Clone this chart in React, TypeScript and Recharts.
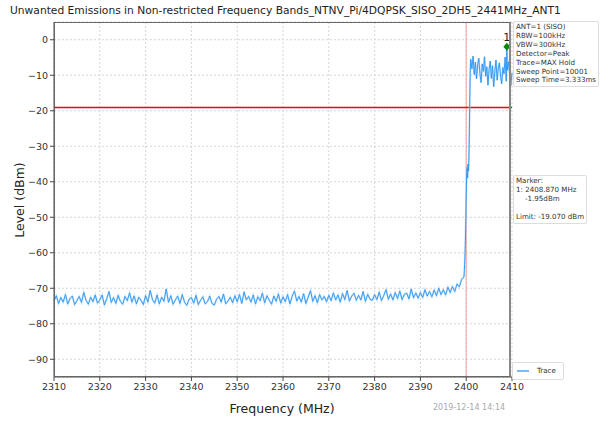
import { LineChart, Line, XAxis, YAxis, CartesianGrid, ReferenceLine, ReferenceDot } from 'recharts';

const title = 'Unwanted Emissions in Non-restricted Frequency Bands_NTNV_Pi/4DQPSK_SISO_2DH5_2441MHz_ANT1';
const xTicks = [2310, 2320, 2330, 2340, 2350, 2360, 2370, 2380, 2390, 2400, 2410];
const yTicks = [-90, -80, -70, -60, -50, -40, -30, -20, -10, 0];

// noise floor, 2310 .. 2399.5 MHz every 0.5 MHz
const floorStart = 2310;
const floorStep = 0.5;
const floorLevels = [
  -73.6, -72.1, -74.3, -72.6, -73.9, -71.8, -74.4, -72.9, -72.2, -74.6, -73.5, -72.3, -74.0, -71.2, -73.4, -74.5, -72.5, -73.8, -71.9, -74.2,
  -73.3, -71.9, -74.7, -73.0, -70.9, -74.0, -72.6, -74.3, -72.0, -73.7, -74.5, -72.3, -73.5, -71.3, -73.9, -72.2, -74.4, -72.5, -73.4, -74.6,
  -72.1, -73.9, -70.6, -73.2, -74.2, -71.9, -74.4, -72.5, -73.7, -70.2, -74.0, -72.1, -74.5, -73.3, -72.2, -74.3, -71.8, -73.9, -74.8, -73.1,
  -72.6, -74.2, -72.0, -74.6, -73.4, -72.4, -74.4, -73.8, -72.2, -74.3, -74.7, -73.1, -72.3, -73.9, -71.6, -74.4, -73.6, -72.5, -74.1, -72.1,
  -73.8, -71.8, -74.3, -71.0, -73.3, -72.3, -73.9, -71.9, -74.4, -72.4, -73.5, -71.4, -74.1, -72.1, -73.4, -74.5, -72.2, -73.7, -71.6, -74.2,
  -72.4, -73.8, -71.8, -74.4, -72.2, -70.8, -73.6, -72.3, -73.9, -71.5, -74.3, -72.5, -70.7, -73.7, -72.1, -74.1, -71.8, -73.3, -72.3, -73.8,
  -72.0, -73.5, -71.3, -73.3, -71.9, -73.9, -71.5, -73.2, -70.6, -73.6, -72.2, -71.4, -73.4, -72.0, -73.3, -70.9, -73.7, -71.7, -73.1, -73.4,
  -71.8, -73.2, -71.1, -73.5, -72.0, -70.4, -73.1, -71.6, -73.3, -71.2, -72.9, -70.8, -73.2, -71.7, -71.4, -73.0, -70.2, -72.7, -71.3, -72.8,
  -71.2, -72.6, -70.4, -72.2, -70.9, -72.4, -70.5, -72.1, -70.0, -71.8, -70.4, -71.9, -69.7, -71.2, -69.5, -70.9, -68.8, -69.6, -67.5, -66.8,
];

// band edge
const edgeFreqs = [2399.6, 2399.7, 2399.8, 2399.9, 2400.0, 2400.1, 2400.2, 2400.3, 2400.4, 2400.5, 2400.6, 2400.7, 2400.8, 2400.9];
const edgeLevels = [-65, -62, -58, -52, -44, -38, -36, -39, -35, -37, -33, -25, -15, -8];

// in-band, 2401 .. 2410 MHz every 0.25 MHz
const bandStart = 2401;
const bandStep = 0.25;
const bandLevels = [
  -5.5, -8.2, -4.6, -9.8, -6.3, -11.0, -7.1, -5.2, -9.4, -12.1, -6.8, -8.9, -4.8, -10.3, -7.6, -12.8, -8.4, -6.0, -10.9,
  -7.3, -13.2, -9.1, -5.7, -11.4, -8.0, -6.5, -10.2, -12.4, -7.8, -9.6, -4.9, -11.7, -8.6, -6.2, -10.0, -12.9, -9.3,
];

const markerFreq = 2408.87;
const markerLevel = -1.95;
const limit = -19.07;

const data = [
  ...floorLevels.map((v, i) => ({ f: floorStart + i * floorStep, v })),
  ...edgeFreqs.map((f, i) => ({ f, v: edgeLevels[i] })),
  ...bandLevels.map((v, i) => ({ f: bandStart + i * bandStep, v })),
  { f: markerFreq, v: markerLevel },
].sort((a, b) => a.f - b.f);

const font = 'DejaVu Sans, sans-serif';
const tick = { fill: '#333', fontSize: 9.5, fontFamily: font };

const infoLines = ['ANT=1 (SISO)', 'RBW=100kHz', 'VBW=300kHz', 'Detector=Peak', 'Trace=MAX Hold', 'Sweep Point=10001', 'Sweep Time=3.333ms'];
const markerLines = ['Marker:', `1: ${markerFreq.toFixed(3)} MHz`, `    ${markerLevel.toFixed(2)}dBm`, '\u00a0', `Limit: ${limit.toFixed(3)} dBm`];

const Diamond = (props: any) => {
  const { cx, cy } = props;
  return (
    <g>
      <path d={`M${cx},${cy - 4} L${cx + 3.5},${cy} L${cx},${cy + 4} L${cx - 3.5},${cy} Z`} fill="#0a8a0a" />
      <text x={cx} y={cy - 6} textAnchor="middle" fontSize={11} fontFamily={font} fill="#222">1</text>
    </g>
  );
};

const box: React.CSSProperties = {
  position: 'absolute',
  background: '#fff',
  border: '1px solid #ddd',
  borderRadius: 2,
  fontFamily: font,
  fontSize: 7.1,
  lineHeight: '8.9px',
  color: '#333',
  padding: '1px 2px',
  whiteSpace: 'pre',
};

export default function App() {
  return (
    <div style={{ position: 'absolute', left: 0, top: 0, width: 601, height: 421, background: '#fff' }}>
      <LineChart width={601} height={421} data={data} margin={{ top: 22, right: 89, bottom: 24, left: 14 }}>
        <CartesianGrid stroke="#d5d5d5" strokeDasharray="2 2" />
        <XAxis
          dataKey="f"
          type="number"
          domain={[2310, 2410]}
          ticks={xTicks}
          height={20}
          tick={tick}
          tickSize={4}
          tickLine={{ stroke: '#444' }}
          axisLine={{ stroke: '#555' }}
        />
        <YAxis
          type="number"
          domain={[-95, 5]}
          ticks={yTicks}
          width={40}
          tick={tick}
          tickSize={4}
          tickLine={{ stroke: '#444' }}
          axisLine={{ stroke: '#555' }}
          tickFormatter={(v: number) => (v < 0 ? `\u2212${-v}` : `${v}`)}
        />
        <ReferenceLine x={2400} stroke="#f4a0a0" strokeWidth={1} />
        <ReferenceLine y={limit} stroke="red" strokeWidth={1.4} />
        <Line type="linear" dataKey="v" stroke="#a9d3f8" strokeWidth={2} strokeOpacity={0.6} dot={false} isAnimationActive={false} legendType="none" />
        <Line type="linear" dataKey="v" stroke="#2a94f0" strokeWidth={0.9} dot={false} isAnimationActive={false} />
        <ReferenceDot x={markerFreq} y={markerLevel} r={4} shape={Diamond} />
      </LineChart>
      <div style={{ position: 'absolute', left: 54, top: 22, width: 457, height: 355, border: '1px solid #666', borderRightWidth: 2, borderRightColor: '#888', pointerEvents: 'none', boxSizing: 'border-box' }} />
      <div style={{ position: 'absolute', left: 10, top: 4, fontFamily: font, fontSize: 10.7, color: '#222', whiteSpace: 'nowrap' }}>{title}</div>
      <div style={{ ...box, left: 513, top: 21 }}>{infoLines.join('\n')}</div>
      <div style={{ ...box, left: 513, top: 175 }}>{markerLines.join('\n')}</div>
      <div style={{ ...box, left: 512, top: 362, width: 46, height: 14, display: 'flex', alignItems: 'center' }}>
        <span style={{ display: 'inline-block', width: 12, height: 2, background: '#7cbcf5', marginRight: 8, marginLeft: 2 }} />
        <span>Trace</span>
      </div>
      <div style={{ position: 'absolute', left: 282, top: 408, transform: 'translate(-50%, -50%)', fontFamily: font, fontSize: 12.5, color: '#222', whiteSpace: 'nowrap' }}>Frequency (MHz)</div>
      <div style={{ position: 'absolute', left: 433, top: 403, fontFamily: font, fontSize: 8, color: '#aaa', whiteSpace: 'nowrap' }}>2019-12-14 14:14</div>
      <div style={{ position: 'absolute', left: 19, top: 200, transform: 'translate(-50%, -50%) rotate(-90deg)', fontFamily: font, fontSize: 12.5, color: '#222', whiteSpace: 'nowrap' }}>Level (dBm)</div>
    </div>
  );
}
